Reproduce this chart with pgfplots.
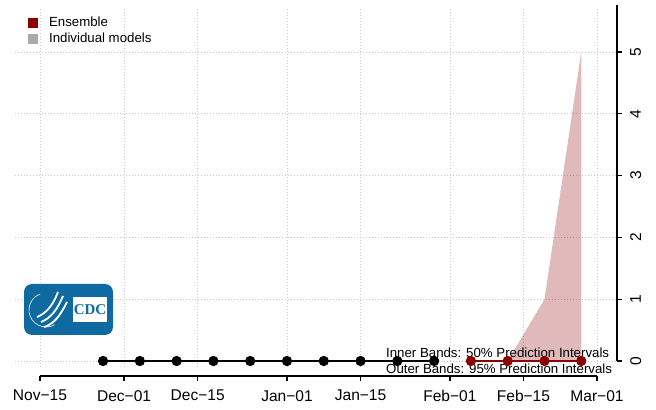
\documentclass[border=0pt]{standalone}
\usepackage{graphicx}
\usepackage{pgfplots}
\pgfplotsset{compat=1.18}
\usepackage{fontspec}
\setmainfont{Liberation Sans}
\newfontfamily\logofont{Liberation Serif}
\definecolor{ensred}{RGB}{139,0,0}
\definecolor{indgray}{RGB}{170,170,170}
\definecolor{cdcblue}{RGB}{16,106,162}
\definecolor{gridgray}{RGB}{200,200,200}

\begin{document}
\begin{tikzpicture}
\path[use as bounding box] (-15bp,-43bp) rectangle (641bp,367bp);
\begin{axis}[
    name=ax,
    at={(0,0)}, anchor=south west,
    scale only axis, width=602bp, height=360bp,
    xmin=-4.757, xmax=109.8, ymin=-0.097, ymax=5.728,
    axis line style={draw=none},
    tick style={draw=none},
    xtick={0,16,30,47,61,78,92,106},
    xticklabels={Nov−15,Dec−01,Dec−15,Jan−01,Jan−15,Feb−01,Feb−15,Mar−01},
    ytick={0,1,2,3,4,5},
    yticklabel=\empty,
    grid=major,
    major grid style={gridgray, line width=0.6bp, dash pattern=on 1bp off 2bp},
    every x tick label/.append style={font=\fontsize{15.6}{16}\selectfont, anchor=north, inner sep=0pt},
    xticklabel shift=23bp,
    clip=false,
    legend cell align=left,
    legend style={draw=none, fill=none, inner sep=0pt, anchor=north west,
        at={(0.0216,0.976)}, font=\fontsize{13.3}{14}\selectfont,
        row sep=1.5bp, nodes={inner sep=1.5bp},
        /tikz/every odd column/.append style={column sep=10bp}},
]
% 95% prediction band of the ensemble
\addplot[draw=none, fill=ensred, fill opacity=0.27, forget plot]
    coordinates {(75,0)(82,0)(89,0)(96,1)(103,5)(103,0)} -- cycle;
% observed
\addplot[black, line width=1.6bp, mark=*, mark size=4.3bp, forget plot]
    coordinates {(12,0)(19,0)(26,0)(33,0)(40,0)(47,0)(54,0)(61,0)(68,0)(75,0)};
% ensemble median
\addplot[ensred, line width=1.6bp, mark=*, mark size=4.3bp, forget plot]
    coordinates {(82,0)(89,0)(96,0)(103,0)};

\addlegendimage{legend image code/.code={\fill[ensred] (0bp,-4.5bp) rectangle (9bp,4.5bp);}}
\addlegendentry{Ensemble}
\addlegendimage{legend image code/.code={\fill[indgray] (0bp,-4.5bp) rectangle (9bp,4.5bp);}}
\addlegendentry{Individual models}

% axes drawn R-style
\draw[line width=1.3bp] ([yshift=-9bp]axis cs:0,-0.097) -- ([yshift=-9bp]axis cs:106,-0.097);
\pgfplotsinvokeforeach{0,16,30,47,61,78,92,106}{
    \draw[line width=1.3bp] ([yshift=-9bp]axis cs:#1,-0.097) -- ([yshift=-13.5bp]axis cs:#1,-0.097);
}
\draw[line width=1.3bp] (axis cs:109.8,0) -- ([yshift=2bp]axis cs:109.8,5.728);
\pgfplotsinvokeforeach{0,1,2,3,4,5}{
    \draw[line width=1.3bp] (axis cs:109.8,#1) -- ([xshift=4.5bp]axis cs:109.8,#1);
}

\node[anchor=west, inner sep=0pt, font=\fontsize{13.3}{14}\selectfont]
    at (axis cs:65.84,0.129) {Inner Bands: 50\% Prediction Intervals};
\node[anchor=west, inner sep=0pt, font=\fontsize{13.3}{14}\selectfont]
    at (axis cs:65.84,-0.129) {Outer Bands: 95\% Prediction Intervals};
\end{axis}

% right-hand tick labels, set parallel to the axis as R does
\foreach \v in {0,1,2,3,4,5}{
    \pgfmathsetmacro{\yy}{5.995+61.803*\v}
    \node[anchor=west, inner sep=0pt, font=\fontsize{15.6}{16}\selectfont]
        at (615bp,\yy bp) {\rotatebox{90}{\v}};
}

% CDC logo
\fill[cdcblue, rounded corners=8bp] (9bp,32bp) rectangle (98bp,83bp);
\fill[white] (58bp,45bp) rectangle (92bp,70bp);
\node[text=cdcblue, font=\logofont\bfseries\fontsize{15}{15}\selectfont, inner sep=0pt]
    at (75bp,57.5bp) {CDC};
\draw[white, line width=0.6bp] (31bp,57bp) ++(110:17bp) arc (110:300:17bp);
\draw[white, line width=1.8bp] (22bp,50bp) .. controls (32bp,54bp) and (38bp,62bp) .. (43bp,75bp);
\draw[white, line width=1.8bp] (26bp,45bp) .. controls (36bp,49bp) and (42bp,57bp) .. (48bp,71bp);
\draw[white, line width=1.8bp] (29bp,40bp) .. controls (39bp,43bp) and (45bp,51bp) .. (52bp,65bp);
\end{tikzpicture}
\end{document}
